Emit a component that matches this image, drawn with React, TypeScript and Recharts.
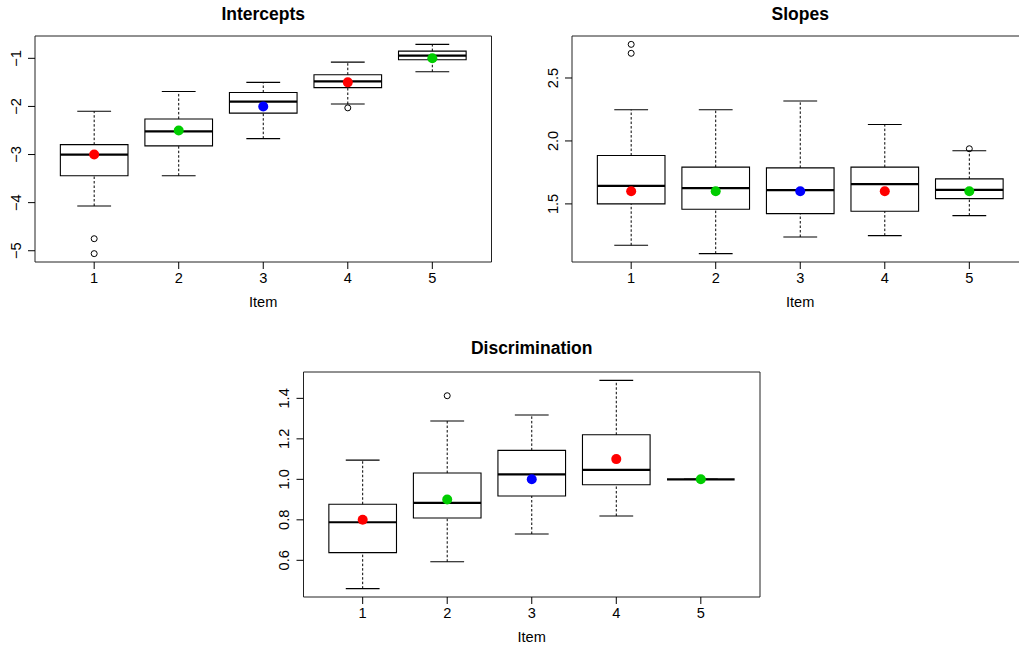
import React from 'react';
import { ComposedChart, XAxis, YAxis, Scatter, ReferenceLine, ReferenceArea } from 'recharts';

const items = [1, 2, 3, 4, 5];
const pointColors = ['#FF0000', '#00CD00', '#0000FF', '#FF0000', '#00CD00'];
const FONT = '"Liberation Sans", Arial, Helvetica, sans-serif';

// Intercepts
const interceptLower = [-4.07, -3.44, -2.67, -1.95, -1.28];
const interceptQ1 = [-3.44, -2.82, -2.14, -1.61, -1.03];
const interceptMedian = [-3.0, -2.52, -1.9, -1.48, -0.945];
const interceptQ3 = [-2.795, -2.26, -1.71, -1.34, -0.85];
const interceptUpper = [-2.1, -1.69, -1.5, -1.08, -0.71];
const interceptTrue = [-3, -2.5, -2, -1.5, -1];
const interceptOutlierItems = [1, 1, 4];
const interceptOutlierValues = [-4.75, -5.06, -2.03];
const interceptTicks = [-5, -4, -3, -2, -1];

// Slopes
const slopeLower = [1.171, 1.105, 1.237, 1.248, 1.407];
const slopeQ1 = [1.5, 1.458, 1.423, 1.442, 1.542];
const slopeMedian = [1.643, 1.625, 1.609, 1.657, 1.611];
const slopeQ3 = [1.884, 1.792, 1.786, 1.792, 1.699];
const slopeUpper = [2.248, 2.248, 2.317, 2.131, 1.922];
const slopeTrue = [1.6, 1.6, 1.6, 1.6, 1.6];
const slopeOutlierItems = [1, 1, 5];
const slopeOutlierValues = [2.767, 2.696, 1.938];
const slopeTicks = [1.5, 2.0, 2.5];

// Discrimination
const discLower = [0.46, 0.593, 0.73, 0.819, 1.0];
const discQ1 = [0.638, 0.809, 0.918, 0.973, 1.0];
const discMedian = [0.788, 0.884, 1.025, 1.047, 1.0];
const discQ3 = [0.877, 1.031, 1.143, 1.22, 1.0];
const discUpper = [1.095, 1.288, 1.318, 1.489, 1.0];
const discTrue = [0.8, 0.9, 1.0, 1.1, 1.0];
const discOutlierItems = [2];
const discOutlierValues = [1.413];
const discTicks = [0.6, 0.8, 1.0, 1.2, 1.4];

type PanelProps = {
  left: number; top: number; width: number; height: number;
  plotLeft: number; plotRight: number; plotTop: number; plotBottom: number;
  lower: number[]; q1: number[]; median: number[]; q3: number[]; upper: number[];
  truth: number[]; outItems: number[]; outValues: number[]; yTicks: number[];
  fmt: (v: number) => string;
};

function Panel(p: PanelProps) {
  const all = [...p.lower, ...p.upper, ...p.outValues];
  const mn = Math.min(...all);
  const mx = Math.max(...all);
  const ext = (mx - mn) * 0.04;
  const yLo = mn - ext;
  const yHi = mx + ext;
  const truthData = items.map((it, i) => ({ x: it, y: p.truth[i] }));
  const outData = p.outItems.map((it, i) => ({ x: it, y: p.outValues[i] }));

  const XTick = (props: any) => (
    <text x={props.x} y={props.y + 13.7} textAnchor="middle" fontSize={14.6} fontFamily={FONT} fill="#000">
      {props.payload.value}
    </text>
  );
  const YTick = (props: any) => {
    const bx = props.x - 7;
    return (
      <text x={bx} y={props.y} transform={`rotate(-90 ${bx} ${props.y})`} textAnchor="middle" fontSize={14.6} fontFamily={FONT} fill="#000">
        {p.fmt(props.payload.value)}
      </text>
    );
  };

  const elems: React.ReactNode[] = [];
  items.forEach((it, i) => {
    elems.push(
      <ReferenceLine key={`wu${i}`} segment={[{ x: it, y: p.q3[i] }, { x: it, y: p.upper[i] }]} stroke="#000" strokeWidth={1} strokeDasharray="2.5 2" ifOverflow="visible" />,
      <ReferenceLine key={`wl${i}`} segment={[{ x: it, y: p.lower[i] }, { x: it, y: p.q1[i] }]} stroke="#000" strokeWidth={1} strokeDasharray="2.5 2" ifOverflow="visible" />,
      <ReferenceLine key={`cu${i}`} segment={[{ x: it - 0.2, y: p.upper[i] }, { x: it + 0.2, y: p.upper[i] }]} stroke="#000" strokeWidth={1.1} ifOverflow="visible" />,
      <ReferenceLine key={`cl${i}`} segment={[{ x: it - 0.2, y: p.lower[i] }, { x: it + 0.2, y: p.lower[i] }]} stroke="#000" strokeWidth={1.1} ifOverflow="visible" />,
      <ReferenceArea key={`b${i}`} x1={it - 0.4} x2={it + 0.4} y1={p.q1[i]} y2={p.q3[i]} fill="none" fillOpacity={0} stroke="#000" strokeWidth={1.1} ifOverflow="visible" />,
      <ReferenceLine key={`m${i}`} segment={[{ x: it - 0.4, y: p.median[i] }, { x: it + 0.4, y: p.median[i] }]} stroke="#000" strokeWidth={2.2} ifOverflow="visible" />
    );
  });

  return (
    <div style={{ position: 'absolute', left: p.left, top: p.top, width: p.width, height: p.height }}>
      <ComposedChart
        width={p.width}
        height={p.height}
        margin={{ top: p.plotTop - p.top, right: p.left + p.width - p.plotRight, bottom: 0, left: 0 }}
      >
        <XAxis
          type="number"
          dataKey="x"
          domain={[0.3, 5.7]}
          allowDataOverflow
          ticks={items}
          interval={0}
          height={p.top + p.height - p.plotBottom}
          axisLine={false}
          tickLine={{ stroke: '#000' }}
          tickSize={7}
          tickMargin={0}
          tick={XTick}
        />
        <YAxis
          type="number"
          dataKey="y"
          domain={[yLo, yHi]}
          allowDataOverflow
          ticks={p.yTicks}
          interval={0}
          width={p.plotLeft - p.left}
          axisLine={false}
          tickLine={{ stroke: '#000' }}
          tickSize={7}
          tickMargin={0}
          tick={YTick}
        />
        <ReferenceArea x1={0.3} x2={5.7} y1={yLo} y2={yHi} fill="none" fillOpacity={0} stroke="#222" strokeWidth={1} ifOverflow="visible" />
        {elems}
        <Scatter
          data={outData}
          dataKey="y"
          isAnimationActive={false}
          shape={(s: any) => <circle cx={s.cx} cy={s.cy} r={3} fill="none" stroke="#000" strokeWidth={1} />}
        />
        <Scatter
          data={truthData}
          dataKey="y"
          isAnimationActive={false}
          shape={(s: any) => <circle cx={s.cx} cy={s.cy} r={5} fill={pointColors[(s.payload?.x ?? 1) - 1]} />}
        />
      </ComposedChart>
    </div>
  );
}

const fmtInt = (v: number) => (v < 0 ? '\u2212' + Math.abs(v) : String(v));
const fmt1 = (v: number) => v.toFixed(1);

export default function App() {
  return (
    <div style={{ position: 'absolute', left: 0, top: 0, width: 1019, height: 648, overflow: 'hidden', background: '#fff', fontFamily: FONT }}>
      <Panel
        left={0} top={0} width={510} height={324}
        plotLeft={35} plotRight={491.5} plotTop={36} plotBottom={262}
        lower={interceptLower} q1={interceptQ1} median={interceptMedian} q3={interceptQ3} upper={interceptUpper}
        truth={interceptTrue} outItems={interceptOutlierItems} outValues={interceptOutlierValues}
        yTicks={interceptTicks} fmt={fmtInt}
      />
      <Panel
        left={510} top={0} width={540} height={324}
        plotLeft={572} plotRight={1028.5} plotTop={36} plotBottom={262}
        lower={slopeLower} q1={slopeQ1} median={slopeMedian} q3={slopeQ3} upper={slopeUpper}
        truth={slopeTrue} outItems={slopeOutlierItems} outValues={slopeOutlierValues}
        yTicks={slopeTicks} fmt={fmt1}
      />
      <Panel
        left={250} top={324} width={530} height={324}
        plotLeft={303.5} plotRight={760} plotTop={372} plotBottom={597}
        lower={discLower} q1={discQ1} median={discMedian} q3={discQ3} upper={discUpper}
        truth={discTrue} outItems={discOutlierItems} outValues={discOutlierValues}
        yTicks={discTicks} fmt={fmt1}
      />
      <svg width={1019} height={648} style={{ position: 'absolute', left: 0, top: 0, pointerEvents: 'none' }}>
        <g fontFamily={FONT} fill="#000" textAnchor="middle">
          <text x={263.2} y={19.5} fontSize={17.5} fontWeight="bold">Intercepts</text>
          <text x={800.2} y={19.5} fontSize={17.5} fontWeight="bold">Slopes</text>
          <text x={531.7} y={354.2} fontSize={17.5} fontWeight="bold">Discrimination</text>
          <text x={263.2} y={306.7} fontSize={14.6}>Item</text>
          <text x={800.2} y={306.7} fontSize={14.6}>Item</text>
          <text x={531.7} y={641.7} fontSize={14.6}>Item</text>
        </g>
      </svg>
    </div>
  );
}
